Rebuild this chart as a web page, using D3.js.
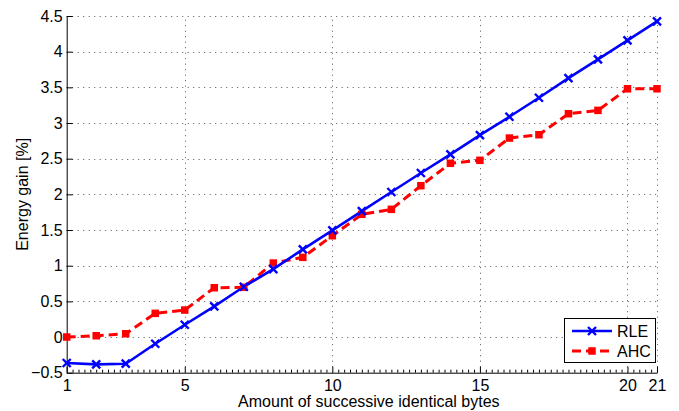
<!DOCTYPE html>
<html>
<head>
<meta charset="utf-8">
<script src="https://cdn.jsdelivr.net/npm/d3@7"></script>
<style>
  html, body { margin: 0; padding: 0; background: #fff; }
  svg { display: block; font-family: "Liberation Sans", Arial, Helvetica, sans-serif; }
</style>
</head>
<body>
<svg id="chart" width="679" height="411"></svg>
<script>
// ---- data ----
const xValues = [1,2,3,4,5,6,7,8,9,10,11,12,13,14,15,16,17,18,19,20,21];
const rleValues = [-0.364,-0.383,-0.374,-0.094,0.172,0.430,0.705,0.953,1.229,1.496,1.766,2.033,2.299,2.561,2.830,3.088,3.354,3.630,3.893,4.159,4.425];
const ahcValues = [0.000,0.018,0.046,0.332,0.378,0.691,0.697,1.037,1.117,1.420,1.720,1.790,2.121,2.435,2.477,2.789,2.836,3.130,3.177,3.480,3.480];
const xTicks = [1,5,10,15,20,21];
const yTicks = [-0.5,0,0.5,1,1.5,2,2.5,3,3.5,4,4.5];
const seriesNames = ["RLE","AHC"];
const xLabel = "Amount of successive identical bytes";
const yLabel = "Energy gain [%]";

// ---- layout ----
const L = 66.7, R = 657, T = 16, B = 372.7;
const svg = d3.select("#chart");
const x = d3.scaleLinear().domain([1,21]).range([L,R]);
const y = d3.scaleLinear().domain([-0.5,4.5]).range([B,T]);

const fmtY = v => v < 0 ? "\u2212" + String(Math.abs(v)).replace(/^0/,"0") : String(v);

// grid
const grid = svg.append("g").attr("stroke","#555").attr("stroke-width",1).attr("stroke-dasharray","1,4.5");
grid.selectAll("line.h").data(yTicks.filter(v => v > -0.5)).enter().append("line")
  .attr("x1",L).attr("x2",R).attr("y1",d=>Math.round(y(d))+0.5).attr("y2",d=>Math.round(y(d))+0.5);
grid.selectAll("line.v").data(xTicks.filter(v => v > 1)).enter().append("line")
  .attr("y1",B).attr("y2",T).attr("x1",d=>Math.round(x(d))+0.5).attr("x2",d=>Math.round(x(d))+0.5);

// axes with D3 axis generators
const xAxis = d3.axisBottom(x).tickValues(xTicks).tickSizeInner(-6).tickSizeOuter(0).tickPadding(10).tickFormat(d3.format("d"));
const gx = svg.append("g").attr("transform",`translate(0,${B})`).call(xAxis);
const yAxis = d3.axisLeft(y).tickValues(yTicks).tickSizeInner(-6).tickSizeOuter(0).tickPadding(4).tickFormat(fmtY);
const gy = svg.append("g").attr("transform",`translate(${L},0)`).call(yAxis);

// minor x ticks
const minor = d3.range(1, 21.001, 0.2).filter(v => !xTicks.some(t => Math.abs(t - v) < 1e-6));
const minorAxis = d3.axisBottom(x).tickValues(minor).tickSizeInner(-3).tickSizeOuter(0).tickFormat("");
svg.append("g").attr("transform",`translate(0,${B})`).call(minorAxis).call(g => g.select(".domain").remove())
  .selectAll("line").attr("stroke","#000");

[gx, gy].forEach(g => {
  g.select(".domain").attr("stroke","#000").attr("stroke-width",1);
  g.selectAll(".tick line").attr("stroke","#000");
  g.selectAll(".tick text").attr("font-size",16).attr("fill","#000")
    .attr("font-family","'Liberation Sans', Arial, sans-serif");
});
gx.selectAll(".tick text").attr("dy","0.55em");

// axis labels
svg.append("text").attr("x",(L+R)/2+7).attr("y",407).attr("text-anchor","middle")
  .attr("font-size",16).text(xLabel);
svg.append("text").attr("transform",`translate(28,${(T+B)/2}) rotate(-90)`).attr("text-anchor","middle")
  .attr("font-size",16).text(yLabel);

// lines
const rleData = xValues.map((d,i)=>[d, rleValues[i]]);
const ahcData = xValues.map((d,i)=>[d, ahcValues[i]]);
const line = d3.line().x(d=>x(d[0])).y(d=>y(d[1]));

svg.append("path").datum(ahcData).attr("d",line).attr("fill","none")
  .attr("stroke","#ff0000").attr("stroke-width",3).attr("stroke-dasharray","9,5");
svg.append("path").datum(rleData).attr("d",line).attr("fill","none")
  .attr("stroke","#0000ff").attr("stroke-width",2.6);

const sq = 7.5;
svg.append("g").selectAll("rect").data(ahcData).enter().append("rect")
  .attr("x",d=>x(d[0])-sq/2).attr("y",d=>y(d[1])-sq/2).attr("width",sq).attr("height",sq).attr("fill","#ff0000");

const xm = 4;
const xMark = (g, cx, cy) => {
  g.append("path").attr("d",`M${cx-xm},${cy-xm}L${cx+xm},${cy+xm}M${cx-xm},${cy+xm}L${cx+xm},${cy-xm}`)
   .attr("stroke","#0000ff").attr("stroke-width",2.4).attr("fill","none");
};
const mg = svg.append("g");
rleData.forEach(d => xMark(mg, x(d[0]), y(d[1])));

// legend
const lg = svg.append("g");
lg.append("rect").attr("x",564.5).attr("y",318.5).attr("width",91).attr("height",44)
  .attr("fill","#fff").attr("stroke","#000").attr("stroke-width",1);
lg.append("line").attr("x1",572).attr("x2",612).attr("y1",331).attr("y2",331)
  .attr("stroke","#0000ff").attr("stroke-width",2.6);
xMark(lg, 592, 331);
lg.append("line").attr("x1",572).attr("x2",612).attr("y1",351).attr("y2",351)
  .attr("stroke","#ff0000").attr("stroke-width",3).attr("stroke-dasharray","9,5");
lg.append("rect").attr("x",592-sq/2).attr("y",351-sq/2).attr("width",sq).attr("height",sq).attr("fill","#ff0000");
lg.append("text").attr("x",617).attr("y",337).attr("font-size",16).text(seriesNames[0]);
lg.append("text").attr("x",617).attr("y",357).attr("font-size",16).text(seriesNames[1]);
</script>
</body>
</html>
